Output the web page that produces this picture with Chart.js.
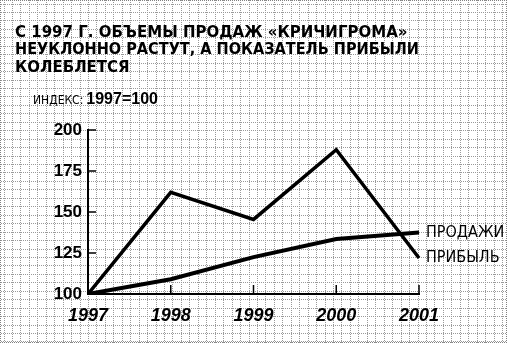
<!DOCTYPE html>
<html>
<head>
<meta charset="utf-8">
<script src="https://cdn.jsdelivr.net/npm/chart.js@4.4.1/dist/chart.umd.min.js"></script>
<style>
html, body { margin: 0; padding: 0; background: #fff; }
#wrap { width: 507px; height: 343px; }
</style>
</head>
<body>
<div id="wrap"><canvas id="chart" width="507" height="343"></canvas></div>
<script>
const years = ['1997', '1998', '1999', '2000', '2001'];
const salesValues = [100, 109, 122.5, 133.5, 137.5];
const profitValues = [100, 162, 145.5, 188, 122];
const seriesLabels = ['ПРОДАЖИ', 'ПРИБЫЛЬ'];
const yTickValues = [100, 125, 150, 175, 200];
const titleLines = [
    'С 1997 Г. ОБЪЕМЫ ПРОДАЖ «КРИЧИГРОМА»',
    'НЕУКЛОННО РАСТУТ, А ПОКАЗАТЕЛЬ ПРИБЫЛИ',
    'КОЛЕБЛЕТСЯ'
];
const indexLabel = 'ИНДЕКС:';
const indexBase = '1997=100';

// graph paper background
const paperPlugin = {
    id: 'paper',
    beforeDraw(chart) {
        const { ctx, width, height } = chart;
        ctx.save();
        ctx.fillStyle = '#fff';
        ctx.fillRect(0, 0, width, height);
        ctx.fillStyle = '#999';
        const step = 8.45;
        // dotted lines, one dot every 2px
        for (let x = 3.5; x < width; x += step) {
            const px = Math.round(x);
            for (let y = 0; y < height; y += 2) ctx.fillRect(px, y, 1, 1);
        }
        for (let y = 3.5; y < height; y += step) {
            const py = Math.round(y);
            for (let x = 1; x < width; x += 2) ctx.fillRect(x, py, 1, 1);
        }
        // edges
        ctx.fillStyle = '#808080';
        for (let x = 0; x < width; x += 2) {
            ctx.fillRect(x, 0, 1, 1);
            ctx.fillRect(x, height - 1, 1, 1);
        }
        for (let y = 0; y < height; y += 2) {
            ctx.fillRect(0, y, 1, 1);
            ctx.fillRect(width - 1, y, 1, 1);
        }
        ctx.restore();
    }
};

// ticks drawn inside the axes, index note, series labels at line ends
const decorPlugin = {
    id: 'decor',
    afterDatasetsDraw(chart) {
        const { ctx, chartArea, scales: { x, y } } = chart;
        ctx.save();
        ctx.strokeStyle = '#000';
        ctx.lineWidth = 1.5;
        ctx.beginPath();
        x.ticks.forEach((t, i) => {
            if (i === 0) return;
            const px = x.getPixelForTick(i);
            ctx.moveTo(px, chartArea.bottom);
            ctx.lineTo(px, chartArea.bottom - 9);
        });
        y.ticks.forEach((t, i) => {
            if (i === 0) return;
            const py = y.getPixelForValue(t.value);
            ctx.moveTo(chartArea.left, py);
            ctx.lineTo(chartArea.left + 8, py);
        });
        ctx.stroke();

        ctx.fillStyle = '#000';
        ctx.textBaseline = 'middle';
        ctx.font = '16px "DejaVu Sans Condensed", sans-serif';
        chart.data.datasets.forEach((ds, i) => {
            const pts = chart.getDatasetMeta(i).data;
            const last = pts[pts.length - 1];
            ctx.fillText(seriesLabels[i], last.x + 7, last.y);
        });

        ctx.font = '12px "DejaVu Sans Condensed", sans-serif';
        ctx.fillText(indexLabel, 33, 101);
        const w = ctx.measureText(indexLabel).width;
        ctx.font = 'bold 16px "Liberation Sans", sans-serif';
        ctx.fillText(indexBase, 33 + w + 3, 100);
        ctx.restore();
    }
};

new Chart(document.getElementById('chart'), {
    type: 'line',
    data: {
        labels: years,
        datasets: [
            {
                label: seriesLabels[0],
                data: salesValues,
                borderColor: '#000',
                borderWidth: 4,
                pointRadius: 0,
                tension: 0
            },
            {
                label: seriesLabels[1],
                data: profitValues,
                borderColor: '#000',
                borderWidth: 3.5,
                pointRadius: 0,
                tension: 0
            }
        ]
    },
    options: {
        responsive: false,
        animation: false,
        layout: { padding: { left: 15, right: 88, top: 0, bottom: 0 } },
        plugins: {
            legend: { display: false },
            tooltip: { enabled: false },
            title: {
                display: true,
                text: titleLines,
                align: 'start',
                color: '#000',
                font: { family: '"DejaVu Sans", sans-serif', size: 15, weight: 'bold', lineHeight: 1.18 },
                padding: { top: 24, bottom: 53 }
            }
        },
        scales: {
            x: {
                grid: { display: false, drawTicks: false },
                border: { color: '#000', width: 2 },
                ticks: {
                    color: '#000',
                    padding: 11,
                    maxRotation: 0,
                    font: { family: '"Liberation Sans", sans-serif', size: 18, weight: 'bold', style: 'italic' }
                },
                afterFit(s) { s.height = 49; }
            },
            y: {
                min: 100,
                max: 200,
                afterBuildTicks(s) { s.ticks = yTickValues.map(v => ({ value: v })); },
                grid: { display: false, drawTicks: false },
                border: { color: '#000', width: 2 },
                ticks: {
                    color: '#000',
                    padding: 6,
                    font: { family: '"Liberation Sans", sans-serif', size: 17, weight: 'bold' }
                },
                afterFit(s) { s.width = 73; }
            }
        }
    },
    plugins: [paperPlugin, decorPlugin]
});
</script>
</body>
</html>
